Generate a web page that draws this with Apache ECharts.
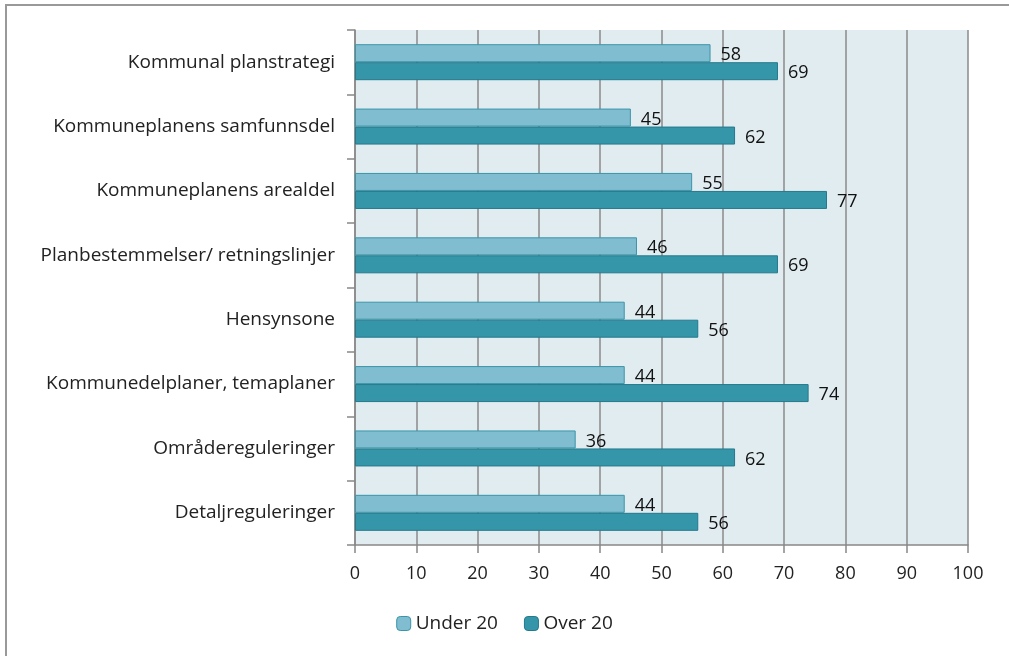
<!DOCTYPE html>
<html>
<head>
<meta charset="utf-8">
<script src="https://cdn.jsdelivr.net/npm/echarts@6/dist/echarts.min.js"></script>
<style>
  html, body { margin: 0; padding: 0; background: #fff; }
  #chart { width: 1009px; height: 656px; }
</style>
</head>
<body>
<div id="chart"></div>
<script>
const categories = [
  "Kommunal planstrategi",
  "Kommuneplanens samfunnsdel",
  "Kommuneplanens arealdel",
  "Planbestemmelser/ retningslinjer",
  "Hensynsone",
  "Kommunedelplaner, temaplaner",
  "Områdereguleringer",
  "Detaljreguleringer"
];
const under20 = [58, 45, 55, 46, 44, 44, 36, 44];
const over20 = [69, 62, 77, 69, 56, 74, 62, 56];

const chart = echarts.init(document.getElementById("chart"));
const font = "'Open Sans', sans-serif";

const labelStyle = {
  show: true,
  position: "right",
  distance: 10,
  offset: [0, 2],
  color: "#111",
  fontSize: 18,
  fontFamily: font
};

chart.setOption({
  animation: false,
  graphic: [{
    type: "rect",
    shape: { x: 6, y: 5, width: 1100, height: 1000 },
    style: { fill: "none", stroke: "#999", lineWidth: 2 },
    silent: true
  }],
  grid: {
    left: 355, right: 41, top: 30, bottom: 111,
    show: true, backgroundColor: "#e1ecf1", borderWidth: 0
  },
  legend: {
    bottom: 18,
    left: "center",
    itemWidth: 14,
    itemHeight: 14,
    itemGap: 26,
    itemStyle: { borderWidth: 1 },
    textStyle: { fontSize: 19, fontFamily: font, color: "#222" },
    data: ["Under 20", "Over 20"]
  },
  xAxis: {
    type: "value",
    min: 0, max: 100, interval: 10,
    axisLine: { show: true, lineStyle: { color: "#888", width: 1.5 } },
    axisTick: { show: true, length: 8, lineStyle: { color: "#888", width: 1.5 } },
    splitLine: { show: true, lineStyle: { color: "#8a8a8a", width: 1.5 } },
    axisLabel: { fontSize: 18, fontFamily: font, color: "#222", margin: 20 }
  },
  yAxis: {
    type: "category",
    inverse: true,
    data: categories,
    axisLine: { show: true, lineStyle: { color: "#888", width: 1.5 } },
    axisTick: { show: true, length: 8, lineStyle: { color: "#888", width: 1.5 } },
    axisLabel: { fontSize: 19, fontFamily: font, color: "#222", margin: 20 }
  },
  series: [
    {
      name: "Under 20",
      type: "bar",
      data: under20,
      barWidth: 18,
      barGap: "0%",
      itemStyle: { color: "#80bdd0", borderColor: "#3a95a8", borderWidth: 1 },
      label: labelStyle
    },
    {
      name: "Over 20",
      type: "bar",
      data: over20,
      barWidth: 18,
      barGap: "0%",
      itemStyle: { color: "#3596aa", borderColor: "#24798b", borderWidth: 1 },
      label: labelStyle
    }
  ]
});
</script>
</body>
</html>
